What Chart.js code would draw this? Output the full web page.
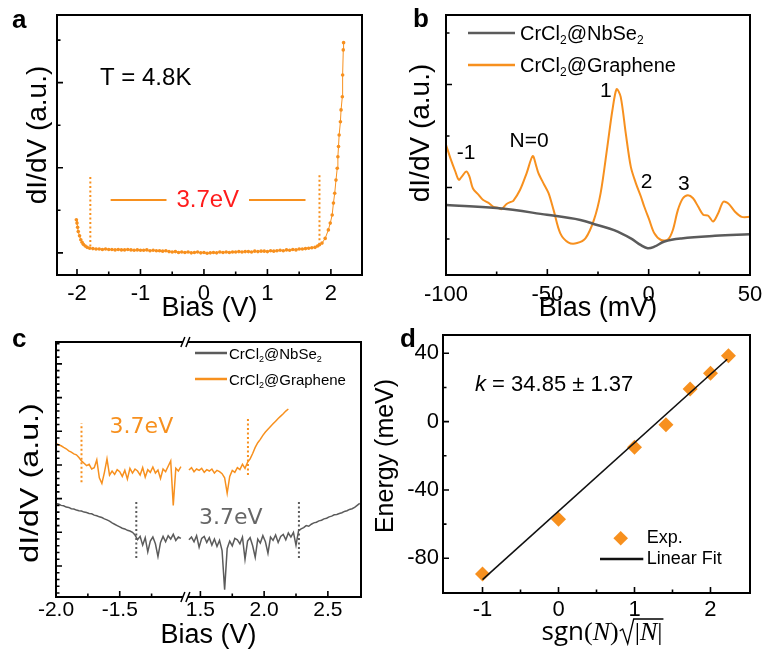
<!DOCTYPE html>
<html>
<head>
<meta charset="utf-8">
<title>CrCl2 tunnelling spectra</title>
<script src="https://cdn.jsdelivr.net/npm/chart.js@4.4.1/dist/chart.umd.min.js"></script>
<style>
  html, body { margin: 0; padding: 0; background: #fff; }
  #fig { position: relative; width: 763px; height: 649px; overflow: hidden; background: #fff; }
  #fig canvas { position: absolute; }
</style>
</head>
<body>
<div id="fig">
  <canvas id="chartA" width="380" height="322" style="left:0px;top:0px"></canvas>
  <canvas id="chartB" width="383" height="322" style="left:380px;top:0px"></canvas>
  <canvas id="chartC" width="380" height="329" style="left:0px;top:320px"></canvas>
  <canvas id="chartD" width="389" height="329" style="left:374px;top:320px"></canvas>
</div>
<script>
// ===============================
// DATA
// ===============================

// panel a : wide-range dI/dV, T = 4.8 K
const aBias = [
  -2.01, -2.00, -1.99, -1.98, -1.96, -1.94, -1.92, -1.90, -1.87, -1.84,
  -1.80, -1.75, -1.70, -1.65, -1.60, -1.55, -1.50, -1.45, -1.40, -1.35,
  -1.30, -1.25, -1.20, -1.15, -1.10, -1.05, -1.00, -0.95, -0.90, -0.85,
  -0.80, -0.75, -0.70, -0.65, -0.60, -0.55, -0.50, -0.45, -0.40, -0.35,
  -0.30, -0.25, -0.20, -0.15, -0.10, -0.05, 0.00, 0.05, 0.10, 0.15,
  0.20, 0.25, 0.30, 0.35, 0.40, 0.45, 0.50, 0.55, 0.60, 0.65,
  0.70, 0.75, 0.80, 0.85, 0.90, 0.95, 1.00, 1.05, 1.10, 1.15,
  1.20, 1.25, 1.30, 1.35, 1.40, 1.45, 1.50, 1.55, 1.60, 1.65,
  1.70, 1.75, 1.79, 1.82, 1.86, 1.91, 1.96, 1.99, 2.02, 2.04,
  2.06, 2.08, 2.10, 2.11, 2.12, 2.13, 2.15, 2.16, 2.18, 2.185,
  2.195, 2.20
];
const aDidv = [
  0.78, 0.70, 0.60, 0.50, 0.40, 0.31, 0.25, 0.20, 0.16, 0.13,
  0.11, 0.10, 0.09, 0.09, 0.08, 0.09, 0.08, 0.08, 0.07, 0.08,
  0.07, 0.07, 0.08, 0.07, 0.06, 0.07, 0.06, 0.06, 0.07, 0.05,
  0.06, 0.05, 0.05, 0.04, 0.05, 0.03, 0.02, 0.03, 0.01, 0.02,
  0.01, 0.02, 0.00, 0.01, 0.02, 0.00, 0.01, -0.01, 0.00, 0.01,
  0.00, 0.02, 0.01, 0.02, 0.01, 0.02, 0.02, 0.03, 0.02, 0.03,
  0.03, 0.02, 0.04, 0.03, 0.04, 0.04, 0.03, 0.05, 0.04, 0.05,
  0.06, 0.05, 0.07, 0.06, 0.08, 0.07, 0.09, 0.09, 0.10, 0.11,
  0.12, 0.13, 0.16, 0.19, 0.23, 0.34, 0.54, 0.70, 0.89, 1.17,
  1.40, 1.71, 1.99, 2.26, 2.50, 2.77, 3.08, 3.36, 3.67, 4.18,
  4.77, 4.94
];
const aGapBias = [-1.79, 1.82];
const aGapLow = [0.15, 0.19];
const aGapHigh = [1.81, 1.88];
const aBarLevel = 1.24;
const aBarLeft = [-1.47, -0.59];
const aBarRight = [0.71, 1.60];
const aTickVals = [-2, -1, 0, 1, 2];
const aTickLabels = ["-2", "-1", "0", "1", "2"];

// panel b : low-bias dI/dV
const bBiasN = [-100, -75.1, -50.2, -33.7, -25.4, -17.1, -8.8, -3.8, -0.5, 2.8, 7.8, 16.1, 32.7, 50];
const bNbSe2 = [0.66, 0.60, 0.47, 0.37, 0.27, 0.17, 0.01, -0.12, -0.18, -0.15, -0.05, 0.01, 0.06, 0.09];
const bBiasG = [
  -100, -97.5, -95.5, -93.7, -92, -90, -88.5, -86.7, -84, -81.8,
  -79, -76.8, -74, -72.6, -70.1, -68, -66.8, -63.5, -60.2, -57.2,
  -55.5, -54.4, -51.9, -49.4, -46.9, -43.6, -39.5, -35.3, -31.2, -27,
  -23.7, -20.4, -17.9, -15.8, -13.8, -11.3, -8.8, -6.3, -3.8, -2.2,
  0.3, 2.8, 6.1, 9.5, 11.9, 14.4, 16.9, 19.4, 21.9, 24.4,
  26.9, 29.4, 31.8, 34.3, 36.8, 39.3, 42.6, 45.9, 50
];
const bGraphene = [
  1.83, 1.53, 1.32, 1.15, 1.22, 1.31, 1.22, 0.98, 0.86, 0.76,
  0.70, 0.63, 0.60, 0.58, 0.68, 0.72, 0.74, 0.95, 1.28, 1.61,
  1.42, 1.28, 1.08, 0.89, 0.56, 0.11, -0.07, -0.08, 0.01, 0.37,
  0.89, 1.79, 2.50, 2.91, 2.76, 2.05, 1.40, 1.08, 0.82, 0.63,
  0.37, 0.11, -0.02, -0.01, 0.17, 0.56, 0.79, 0.85, 0.79, 0.63,
  0.47, 0.45, 0.34, 0.50, 0.72, 0.69, 0.53, 0.43, 0.43
];
const bPeakNames = ["-1", "N=0", "1", "2", "3"];
const bPeakBias = [-90.1, -59.0, -21.1, -1.0, 17.4];
const bPeakLevel = [1.66, 1.90, 2.87, 1.11, 1.07];
const bTickVals = [-100, -50, 0, 50];
const bTickLabels = ["-100", "-50", "0", "50"];

// panel c : broken bias axis
const cBiasL = [
  -2.00, -1.98, -1.96, -1.94, -1.92, -1.90, -1.88, -1.86, -1.84, -1.82,
  -1.80, -1.78, -1.76, -1.74, -1.72, -1.70, -1.68, -1.66, -1.64, -1.62,
  -1.60, -1.58, -1.56, -1.54, -1.52, -1.50, -1.48, -1.46, -1.44, -1.42,
  -1.40, -1.38, -1.36, -1.34, -1.32, -1.30, -1.28, -1.26, -1.24, -1.22,
  -1.20, -1.18, -1.16, -1.14, -1.12, -1.10, -1.08, -1.06, -1.04, -1.02
];
const cGrapheneL = [
  3.64, 3.60, 3.57, 3.52, 3.48, 3.42, 3.38, 3.33, 3.30, 3.22,
  3.12, 3.05, 2.98, 3.02, 2.88, 2.92, 3.15, 2.62, 2.45, 2.78,
  3.18, 2.70, 2.82, 2.72, 2.86, 2.80, 2.66, 2.84, 2.58, 2.90,
  2.76, 2.88, 2.82, 2.70, 2.92, 2.64, 2.86, 2.78, 2.94, 2.76,
  2.85, 2.60, 2.88, 2.80, 2.96, 3.12, 1.80, 2.90, 2.82, 2.95
];
const cNbSe2L = [
  1.86, 1.84, 1.80, 1.79, 1.75, 1.74, 1.70, 1.69, 1.66, 1.64,
  1.63, 1.60, 1.59, 1.56, 1.55, 1.51, 1.49, 1.46, 1.44, 1.40,
  1.37, 1.33, 1.28, 1.24, 1.20, 1.16, 1.12, 1.10, 1.06, 1.04,
  1.00, 0.92, 0.78, 0.88, 0.62, 0.84, 0.42, 0.74, 0.86, 0.66,
  0.28, 0.70, 0.88, 0.72, 0.90, 0.80, 0.94, 0.76, 0.86, 0.82
];
const cBiasR = [
  1.41, 1.43, 1.45, 1.47, 1.49, 1.51, 1.53, 1.55, 1.57, 1.59,
  1.61, 1.63, 1.65, 1.67, 1.69, 1.71, 1.73, 1.75, 1.77, 1.79,
  1.81, 1.83, 1.85, 1.87, 1.89, 1.91, 1.93, 1.95, 1.97, 1.99,
  2.01, 2.03, 2.05, 2.07, 2.09, 2.11, 2.13, 2.15, 2.17, 2.19,
  2.21, 2.23, 2.25, 2.27, 2.29, 2.31, 2.33, 2.35, 2.37, 2.39,
  2.41, 2.43, 2.45, 2.47, 2.49, 2.51, 2.53, 2.55, 2.57, 2.59,
  2.61, 2.63, 2.65, 2.67, 2.69, 2.71, 2.73, 2.75
];
const cGrapheneR = [
  2.85, 2.92, 2.80, 2.88, 2.84, 2.90, 2.78, 2.86, 2.82, 2.88,
  2.76, 2.84, 2.80, 2.74, 2.62, 2.16, 2.66, 2.84, 2.78, 2.92,
  2.86, 3.02, 2.90, 3.08, 3.18, 3.34, 3.52, 3.66, 3.76, 3.88,
  3.98, 4.06, 4.14, 4.22, 4.30, 4.38, 4.45, 4.52, 4.60, 4.66
];
const cNbSe2R = [
  0.78, 0.86, 0.72, 0.90, 0.56, 0.82, 0.88, 0.70, 0.84, 0.62,
  0.80, 0.58, 0.76, 0.46, -0.70, 0.52, 0.74, 0.60, 0.82, 0.78,
  0.66, 0.86, 0.20, 0.74, 0.84, 0.60, 0.26, 0.80, 0.68, 0.90,
  0.72, 0.38, 0.86, 0.76, 0.92, 0.70, 0.88, 0.94, 0.78, 0.98,
  0.86, 1.00, 0.62, 1.04, 1.10, 1.14, 1.20, 1.18, 1.24, 1.28,
  1.30, 1.34, 1.36, 1.40, 1.42, 1.46, 1.48, 1.52, 1.53, 1.56,
  1.58, 1.62, 1.64, 1.68, 1.70, 1.74, 1.80, 1.86
];
const cGapBiasG = [-1.80, 1.873];
const cGapLowG = [2.49, 2.70];
const cGapHighG = [4.24, 4.42];
const cGapBiasN = [-1.37, 2.273];
const cGapLowN = [0.24, 0.24];
const cGapHighN = [1.90, 1.90];
const cTickVals = [-2.0, -1.5, 1.5, 2.0, 2.5];
const cTickLabels = ["-2.0", "-1.5", "1.5", "2.0", "2.5"];
const cShift = 2.367;      // gap removed from the bias axis
const cBreak = -0.985;     // where the break sits on the compressed axis

// panel d : Landau level energies
const dIndex = [-1, 0, 1, 1.414, 1.732, 2, 2.236];
const dEnergy = [-89.2, -57.2, -15.0, -1.9, 19.1, 28.3, 38.5];
const dFitX = [-1, 2.22];
const dFitY = [-92.5, 36.5];
const dTickVals = [-1, 0, 1, 2];
const dTickLabels = ["-1", "0", "1", "2"];
const dYTickVals = [-80, -40, 0, 40];
const dYTickLabels = ["-80", "-40", "0", "40"];

// ===============================
// STYLE + HELPERS
// ===============================
const FONT = '"Liberation Sans", Arial, Helvetica, sans-serif';
const ORANGE = "#F7901E";
const GREY = "#5B5B5B";
const RED = "#FF1C1C";

Chart.defaults.font.family = FONT;
Chart.defaults.color = "#000";

const toU = (v) => (v < 0 ? v : v - cShift);
const pts = (xs, ys, map) => ys.map((v, i) => ({ x: map ? map(xs[i]) : xs[i], y: v }));
const vline = (x, lo, hi, map) => [{ x: map ? map(x) : x, y: lo }, { x: map ? map(x) : x, y: hi }];

function line(data, color, width, extra) {
  return Object.assign({ data, showLine: true, borderColor: color, borderWidth: width, pointRadius: 0, fill: false, tension: 0 }, extra || {});
}
function dotted(data, color) {
  return line(data, color, 2, { borderDash: [2, 2.5] });
}

function text(ctx, s, x, y, font, color, align, base) {
  ctx.font = font;
  ctx.fillStyle = color || "#000";
  ctx.textAlign = align || "center";
  ctx.textBaseline = base || "middle";
  ctx.fillText(s, x, y);
}
// parts starting with "_" are subscripts
function rich(ctx, parts, x, y, size, color) {
  ctx.fillStyle = color || "#000";
  ctx.textAlign = "left";
  ctx.textBaseline = "alphabetic";
  let cx = x;
  parts.forEach((p) => {
    const sub = p.startsWith("_");
    const t = sub ? p.slice(1) : p;
    ctx.font = `${sub ? Math.round(size * 0.62) : size}px ${FONT}`;
    ctx.fillText(t, cx, sub ? y + size * 0.22 : y);
    cx += ctx.measureText(t).width;
  });
}
function vTitle(ctx, s, cx, cy, size, sx) {
  ctx.save();
  ctx.translate(cx, cy);
  ctx.rotate(-Math.PI / 2);
  ctx.scale(sx || 1, 1);
  text(ctx, s, 0, 0, `${size}px ${FONT}`, "#000");
  ctx.restore();
}
function legendLine(ctx, x1, x2, y, color) {
  ctx.strokeStyle = color;
  ctx.lineWidth = 2.5;
  ctx.beginPath(); ctx.moveTo(x1, y); ctx.lineTo(x2, y); ctx.stroke();
}
function breakMark(ctx, x, y) {
  ctx.save();
  ctx.fillStyle = "#fff";
  ctx.beginPath();
  ctx.moveTo(x - 4.5, y + 5); ctx.lineTo(x - 0.5, y - 5); ctx.lineTo(x + 4.5, y - 5); ctx.lineTo(x + 0.5, y + 5);
  ctx.closePath(); ctx.fill();
  ctx.strokeStyle = "#000"; ctx.lineWidth = 1.5;
  ctx.beginPath();
  ctx.moveTo(x - 4.5, y + 5); ctx.lineTo(x - 0.5, y - 5);
  ctx.moveTo(x + 0.5, y + 5); ctx.lineTo(x + 4.5, y - 5);
  ctx.stroke();
  ctx.restore();
}

// frame, inward ticks, break marks and free texts
function makeDeco(cfg) {
  return {
    id: "deco",
    afterDatasetsDraw(chart) {
      const { ctx, chartArea: ca } = chart;
      const xs = chart.scales.x, ys = chart.scales.y;
      const map = cfg.xMap || ((v) => v);
      ctx.save();
      ctx.strokeStyle = "#000";
      ctx.lineWidth = 1.6;
      ctx.beginPath();
      const tx = (vals, len) => vals.forEach((v) => { const p = xs.getPixelForValue(map(v)); ctx.moveTo(p, ca.bottom); ctx.lineTo(p, ca.bottom - len); });
      const ty = (vals, len) => vals.forEach((v) => { const p = ys.getPixelForValue(v); ctx.moveTo(ca.left, p); ctx.lineTo(ca.left + len, p); });
      tx(cfg.xMajor, 6); tx(cfg.xMinor, 3.5);
      ty(cfg.yMajor, 6); ty(cfg.yMinor, 3.5);
      ctx.stroke();
      ctx.lineWidth = 2;
      ctx.strokeRect(ca.left, ca.top, ca.right - ca.left, ca.bottom - ca.top);
      if (cfg.brk != null) {
        const p = xs.getPixelForValue(cfg.brk);
        breakMark(ctx, p, ca.top);
        breakMark(ctx, p, ca.bottom);
      }
      if (cfg.draw) cfg.draw(ctx, xs, ys, ca);
      ctx.restore();
    }
  };
}

function xScale(c) {
  return {
    type: "linear", min: c.min, max: c.max,
    grid: { display: false, drawTicks: false }, border: { display: false },
    afterBuildTicks: (s) => { s.ticks = c.ticks.map((v) => ({ value: v })); },
    afterFit: (s) => { s.height = c.h; s.paddingLeft = 0; s.paddingRight = 0; },
    ticks: {
      autoSkip: false, maxRotation: 0, minRotation: 0, padding: c.pad, color: "#000",
      font: { size: c.fs || 22, lineHeight: 1.2 },
      callback: (v, i) => c.labels[i]
    },
    title: {
      display: !!c.title, text: c.title || "", color: "#000",
      font: { size: 27, lineHeight: 1 }, padding: { top: 0, bottom: 0 }
    }
  };
}
function yScale(c) {
  return {
    type: "linear", min: c.min, max: c.max,
    grid: { display: false, drawTicks: false }, border: { display: false },
    afterBuildTicks: (s) => { if (c.ticks) s.ticks = c.ticks.map((v) => ({ value: v })); },
    afterFit: (s) => { s.width = c.w; s.paddingTop = 0; s.paddingBottom = 0; },
    ticks: {
      display: !!c.labels, autoSkip: false, padding: 4, color: "#000",
      font: { size: 22 },
      callback: (v, i) => (c.labels ? c.labels[i] : "")
    },
    title: { display: false }
  };
}
function makeChart(id, datasets, padding, xs, ys, deco) {
  return new Chart(document.getElementById(id), {
    type: "scatter",
    data: { datasets },
    options: {
      responsive: false, animation: false, events: [],
      layout: { padding },
      plugins: { legend: { display: false }, tooltip: { enabled: false } },
      scales: { x: xScale(xs), y: yScale(ys) }
    },
    plugins: [makeDeco(deco)]
  });
}

// ===============================
// PANEL A
// ===============================
makeChart("chartA", [
  line(pts(aBias, aDidv), ORANGE, 1, { pointRadius: 1.8, pointBackgroundColor: ORANGE, pointBorderWidth: 0 }),
  dotted(vline(aGapBias[0], aGapLow[0], aGapHigh[0]), ORANGE),
  dotted(vline(aGapBias[1], aGapLow[1], aGapHigh[1]), ORANGE),
  line([{ x: aBarLeft[0], y: aBarLevel }, { x: aBarLeft[1], y: aBarLevel }], ORANGE, 2),
  line([{ x: aBarRight[0], y: aBarLevel }, { x: aBarRight[1], y: aBarLevel }], ORANGE, 2)
], { left: 0, top: 15, right: 18, bottom: 0 },
{ min: -2.315, max: 2.49, ticks: aTickVals, labels: aTickLabels, h: 47, pad: 6, title: "Bias (V)" },
{ min: -0.52, max: 5.59, w: 57 },
{
  xMajor: aTickVals, xMinor: [-1.5, -0.5, 0.5, 1.5], yMajor: [0, 2, 4], yMinor: [1, 3, 5],
  draw(ctx, xs, ys) {
    text(ctx, "a", 12, 28, `bold 26px ${FONT}`, "#000", "left", "alphabetic");
    vTitle(ctx, "dI/dV (a.u.)", 38, 135, 28);
    text(ctx, "T = 4.8K", 100, 85, `24px ${FONT}`, "#000", "left", "alphabetic");
    text(ctx, "3.7eV", xs.getPixelForValue((aBarLeft[1] + aBarRight[0]) / 2), ys.getPixelForValue(aBarLevel), `24px ${FONT}`, RED);
  }
});

// ===============================
// PANEL B
// ===============================
makeChart("chartB", [
  line(pts(bBiasN, bNbSe2), GREY, 2.5, { tension: 0.4 }),
  line(pts(bBiasG, bGraphene), ORANGE, 2, { tension: 0.3 })
], { left: 0, top: 15, right: 13, bottom: 0 },
{ min: -100, max: 50, ticks: bTickVals, labels: bTickLabels, h: 47, pad: 7, title: "Bias (mV)" },
{ min: -0.70, max: 4.35, w: 66 },
{
  xMajor: bTickVals, xMinor: [-75, -25, 25], yMajor: [1, 3], yMinor: [0, 2, 4],
  draw(ctx, xs, ys) {
    text(ctx, "b", 33, 27, `bold 26px ${FONT}`, "#000", "left", "alphabetic");
    vTitle(ctx, "dI/dV (a.u.)", 41, 133, 28);
    legendLine(ctx, 88, 135, 33, GREY);
    rich(ctx, ["CrCl", "_2", "@NbSe", "_2"], 140, 40, 20, "#000");
    legendLine(ctx, 88, 135, 65, ORANGE);
    rich(ctx, ["CrCl", "_2", "@Graphene"], 140, 72, 20, "#000");
    bPeakNames.forEach((n, i) => {
      text(ctx, n, xs.getPixelForValue(bPeakBias[i]), ys.getPixelForValue(bPeakLevel[i]), `21px ${FONT}`, "#000");
    });
  }
});

// ===============================
// PANEL C
// ===============================
const cMinor = [];
for (let v = -0.8; v < 6.7; v += 0.2) {
  const r = Math.round(v * 10) / 10;
  if (Math.abs(r - Math.round(r)) > 0.01) cMinor.push(r);
}
makeChart("chartC", [
  line(pts(cBiasL, cNbSe2L, toU), GREY, 1.5),
  line(pts(cBiasR, cNbSe2R, toU), GREY, 1.5),
  line(pts(cBiasL, cGrapheneL, toU), ORANGE, 1.5),
  line(pts(cBiasR.slice(0, cGrapheneR.length), cGrapheneR, toU), ORANGE, 1.5),
  dotted(vline(cGapBiasG[0], cGapLowG[0], cGapHighG[0], toU), ORANGE),
  dotted(vline(cGapBiasG[1], cGapLowG[1], cGapHighG[1], toU), ORANGE),
  dotted(vline(cGapBiasN[0], cGapLowN[0], cGapHighN[0], toU), GREY),
  dotted(vline(cGapBiasN[1], cGapLowN[1], cGapHighN[1], toU), GREY)
], { left: 0, top: 22, right: 19, bottom: 0 },
{ min: -2.0, max: 0.393, ticks: cTickVals.map(toU), labels: cTickLabels, h: 52, pad: 1, fs: 21, title: "Bias (V)" },
{ min: -0.92, max: 6.65, w: 56 },
{
  xMap: toU, brk: cBreak,
  xMajor: cTickVals, xMinor: [-1.75, -1.25, 1.75, 2.25], yMajor: [0, 1, 2, 3, 4, 5, 6], yMinor: cMinor,
  draw(ctx, xs, ys) {
    text(ctx, "c", 12, 27, `bold 26px ${FONT}`, "#000", "left", "alphabetic");
    vTitle(ctx, "dI/dV (a.u.)", 31.5, 163, 25, 1.29);
    legendLine(ctx, 195, 227, 33, GREY);
    rich(ctx, ["CrCl", "_2", "@NbSe", "_2"], 229, 38.5, 15, "#000");
    legendLine(ctx, 195, 227, 59, ORANGE);
    rich(ctx, ["CrCl", "_2", "@Graphene"], 229, 64.5, 15, "#000");
    text(ctx, "3.7eV", xs.getPixelForValue(toU(-1.33)), ys.getPixelForValue(4.12), '22px "DejaVu Sans", sans-serif', ORANGE);
    text(ctx, "3.7eV", xs.getPixelForValue(toU(1.738)), ys.getPixelForValue(1.42), '22px "DejaVu Sans", sans-serif', "#666");
  }
});

// ===============================
// PANEL D
// ===============================
makeChart("chartD", [
  line(pts(dFitX, dFitY), "#111", 1.6),
  { data: pts(dIndex, dEnergy), showLine: false, pointStyle: "rectRot", pointRadius: 7.5,
    pointBackgroundColor: ORANGE, pointBorderColor: ORANGE, pointBorderWidth: 0 }
], { left: 0, top: 15, right: 13, bottom: 0 },
{ min: -1.52, max: 2.52, ticks: dTickVals, labels: dTickLabels, h: 56, pad: 4 },
{ min: -100.3, max: 50.7, w: 69, ticks: dYTickVals, labels: dYTickLabels },
{
  xMajor: dTickVals, xMinor: [-0.5, 0.5, 1.5], yMajor: dYTickVals, yMinor: [-60, -20, 20],
  draw(ctx, xs, ys, ca) {
    text(ctx, "d", 26, 27, `bold 26px ${FONT}`, "#000", "left", "alphabetic");
    vTitle(ctx, "Energy (meV)", 12.5, 136, 25);
    // k = 34.85 ± 1.37
    ctx.textBaseline = "middle"; ctx.textAlign = "left"; ctx.fillStyle = "#000";
    ctx.font = `italic 22px ${FONT}`;
    ctx.fillText("k", 101, 65);
    const kw = ctx.measureText("k").width;
    ctx.font = `22px ${FONT}`;
    ctx.fillText(" = 34.85 \u00b1 1.37", 101 + kw, 65);
    // legend
    ctx.fillStyle = ORANGE;
    ctx.beginPath();
    ctx.moveTo(246.7, 211); ctx.lineTo(254, 218.3); ctx.lineTo(246.7, 225.6); ctx.lineTo(239.4, 218.3);
    ctx.closePath(); ctx.fill();
    text(ctx, "Exp.", 272.7, 218.3, `18px ${FONT}`, "#000", "left");
    legendLine(ctx, 226, 269.3, 239, "#111");
    text(ctx, "Linear Fit", 272.7, 239, `18px ${FONT}`, "#000", "left");
    // x title: sgn(N) sqrt(|N|)
    const base = 320, size = 26;
    const serif = '"Liberation Serif", "DejaVu Serif", serif';
    const parts = [
      { t: "sgn", f: `${size}px "Open Sans", "DejaVu Sans", sans-serif` },
      { t: "(", f: `${size}px ${serif}` },
      { t: "N", f: `italic ${size}px ${serif}` },
      { t: ")", f: `${size}px ${serif}` },
      { rad: 16 },
      { t: "|", f: `${size}px ${serif}` },
      { t: "N", f: `italic ${size}px ${serif}` },
      { t: "|", f: `${size}px ${serif}` }
    ];
    let total = 0;
    parts.forEach((p) => { if (p.rad) { p.w = p.rad; } else { ctx.font = p.f; p.w = ctx.measureText(p.t).width; } total += p.w; });
    let cx = 228 - total / 2;
    let radX = 0;
    ctx.fillStyle = "#000"; ctx.textAlign = "left"; ctx.textBaseline = "alphabetic";
    parts.forEach((p) => {
      if (p.rad) { radX = cx; }
      else { ctx.font = p.f; ctx.fillText(p.t, cx, base); }
      cx += p.w;
    });
    ctx.strokeStyle = "#000"; ctx.lineWidth = 1.3;
    ctx.beginPath();
    ctx.moveTo(radX + 1, base - 9);
    ctx.lineTo(radX + 4, base - 11);
    ctx.lineTo(radX + 9, base + 4);
    ctx.lineTo(radX + 15, base - 21);
    ctx.lineTo(cx + 1, base - 21);
    ctx.stroke();
  }
});
</script>
</body>
</html>
